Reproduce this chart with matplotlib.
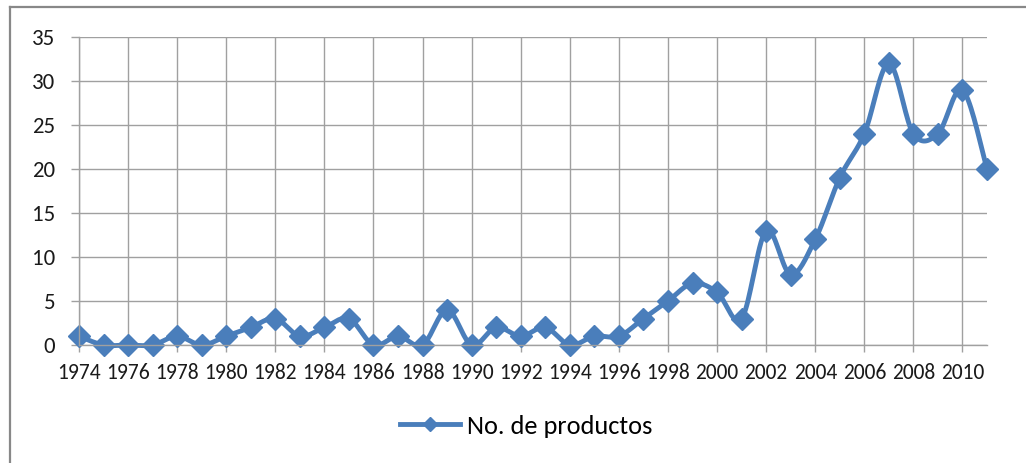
import numpy as np
import matplotlib
matplotlib.use("Agg")
import matplotlib.pyplot as plt
from matplotlib.lines import Line2D

years = list(range(1974, 2012))
productos = [1, 0, 0, 0, 1, 0, 1, 2, 3, 1, 2, 3, 0, 1, 0, 4, 0, 2, 1, 2,
             0, 1, 1, 3, 5, 7, 6, 3, 13, 8, 12, 19, 24, 32, 24, 24, 29, 20]
series_label = "No. de productos"

blue = "#4a7ebb"
grid_gray = "#a0a0a0"

plt.rcParams['font.family'] = ['Carlito', 'Lato', 'DejaVu Sans']


def smooth_curve(px, py, steps=20):
    # excel-like smoothed line: catmull-rom turned into cubic beziers
    pts = np.column_stack([px, py])
    n = len(pts)
    out = [pts[0]]
    t = np.linspace(0, 1, steps)[1:]
    for i in range(n - 1):
        p0 = pts[max(i - 1, 0)]
        p1 = pts[i]
        p2 = pts[i + 1]
        p3 = pts[min(i + 2, n - 1)]
        c1 = p1 + (p2 - p0) / 6.0
        c2 = p2 - (p3 - p1) / 6.0
        for tt in t:
            b = ((1 - tt) ** 3) * p1 + 3 * ((1 - tt) ** 2) * tt * c1 \
                + 3 * (1 - tt) * tt ** 2 * c2 + tt ** 3 * p2
            out.append(b)
    return np.array(out)


W, H = 1026, 463
fig = plt.figure(figsize=(W / 100, H / 100), dpi=100)
ax = fig.add_axes([79 / W, 1 - 345 / H, (987 - 79) / W, (345 - 37) / H])

ax.set_xlim(years[0], years[-1])
ax.set_ylim(0, 35)
ax.set_xticks(years[::2])
ax.set_yticks(range(0, 36, 5))

ax.grid(True, color=grid_gray, linewidth=1.0)
ax.set_axisbelow(True)
for side in ["top", "right"]:
    ax.spines[side].set_visible(False)
for side in ["left", "bottom"]:
    ax.spines[side].set_color(grid_gray)
    ax.spines[side].set_linewidth(1.0)

ax.tick_params(axis="y", length=6, width=1.0, color=grid_gray,
               labelsize=16.5, pad=11, labelcolor="#1a1a1a")
ax.tick_params(axis="x", length=5, width=1.0, color=grid_gray,
               labelsize=15.5, pad=8, labelcolor="#1a1a1a")

# smoothing done in pixel space, like the spreadsheet does
disp = ax.transData.transform(np.column_stack([years, productos]))
curve = smooth_curve(disp[:, 0], disp[:, 1])
curve = ax.transData.inverted().transform(curve)
ax.plot(curve[:, 0], curve[:, 1], color=blue, linewidth=3.5,
        solid_capstyle="round", solid_joinstyle="round", clip_on=False)
ax.plot(years, productos, linestyle="none", marker="D", markersize=11,
        color=blue, clip_on=False)

handle = Line2D([], [], color=blue, linewidth=3.5, marker="D", markersize=7.5)
fig.legend([handle], [series_label], loc="center", bbox_to_anchor=(526 / W, 1 - 426 / H),
           frameon=False, fontsize=19, handlelength=2.3, handletextpad=0.25)

# outer chart frame (only top and left edges show)
fig.add_artist(Line2D([10 / W, 10 / W], [0, 1 - 7 / H], color="#888888", linewidth=1.6))
fig.add_artist(Line2D([10 / W, 1], [1 - 7 / H, 1 - 7 / H], color="#888888", linewidth=1.6))

fig.savefig("out.png", dpi=100, facecolor="white")
